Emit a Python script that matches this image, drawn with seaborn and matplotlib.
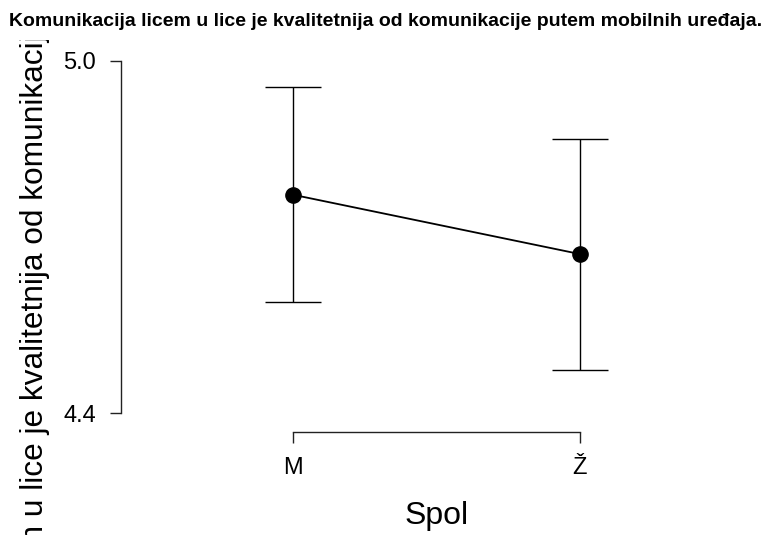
import pandas as pd
import matplotlib
matplotlib.use('Agg')
import matplotlib.pyplot as plt
import seaborn as sns
from matplotlib.transforms import Bbox

# values
spol = ['M', 'Ž']
mean = [4.772, 4.671]
ci_low = [4.589, 4.473]
ci_high = [4.956, 4.867]

title = 'Komunikacija licem u lice je kvalitetnija od komunikacije putem mobilnih uređaja.'

df = pd.DataFrame({'Spol': spol, 'mean': mean, 'low': ci_low, 'high': ci_high})

sns.set_style('white')
plt.rcParams['font.family'] = ['Liberation Sans', 'DejaVu Sans']
plt.rcParams['text.color'] = 'black'
plt.rcParams['axes.labelcolor'] = 'black'
plt.rcParams['xtick.color'] = 'black'
plt.rcParams['ytick.color'] = 'black'

fig = plt.figure(figsize=(7.66, 5.35), dpi=100)
ax = fig.add_axes([121 / 766, (535 - 432) / 535, (752 - 121) / 766, (432 - 55) / 535])

# error bars (95% CI)
ax.errorbar(x=range(len(df)), y=df['mean'],
            yerr=[df['mean'] - df['low'], df['high'] - df['mean']],
            fmt='none', ecolor='black', elinewidth=1.0, capsize=20, capthick=1.0, zorder=1)

sns.pointplot(data=df, x='Spol', y='mean', color='black', errorbar=None,
              markers='o', markersize=11, linewidth=1.3, ax=ax, zorder=3)

ax.set_xlim(-0.6, 1.6)
ax.set_ylim(4.368, 5.01)
ax.set_yticks([4.4, 5.0])
ax.set_yticklabels(['4.4', '5.0'])

for s in ['top', 'right']:
    ax.spines[s].set_visible(False)
ax.spines['left'].set_bounds(4.4, 5.0)
ax.spines['bottom'].set_bounds(0, 1)
for s in ['left', 'bottom']:
    ax.spines[s].set_color('#222222')
    ax.spines[s].set_linewidth(1.0)

ax.tick_params(axis='both', which='major', direction='out', length=8, width=1.0,
               color='#222222', labelsize=17, pad=10, left=True, bottom=True)

ax.set_xlabel('Spol', fontsize=23)
ax.xaxis.set_label_coords(0.5, -(501 - 432) / 377)
ax.set_ylabel(title, fontsize=22.8)
ax.yaxis.set_label_coords((50 - 121) / 631, (432 - 233) / 377)
# the long y label is cut off below the title strip, as in the reference
ax.yaxis.label.set_clip_box(Bbox([[0, 0], [766, 535 - 40]]))
ax.yaxis.label.set_clip_on(True)

fig.text(9 / 766, 1 - 22 / 535, title, fontsize=14, fontweight='bold', va='center', ha='left')

fig.savefig('out.png', dpi=100)
